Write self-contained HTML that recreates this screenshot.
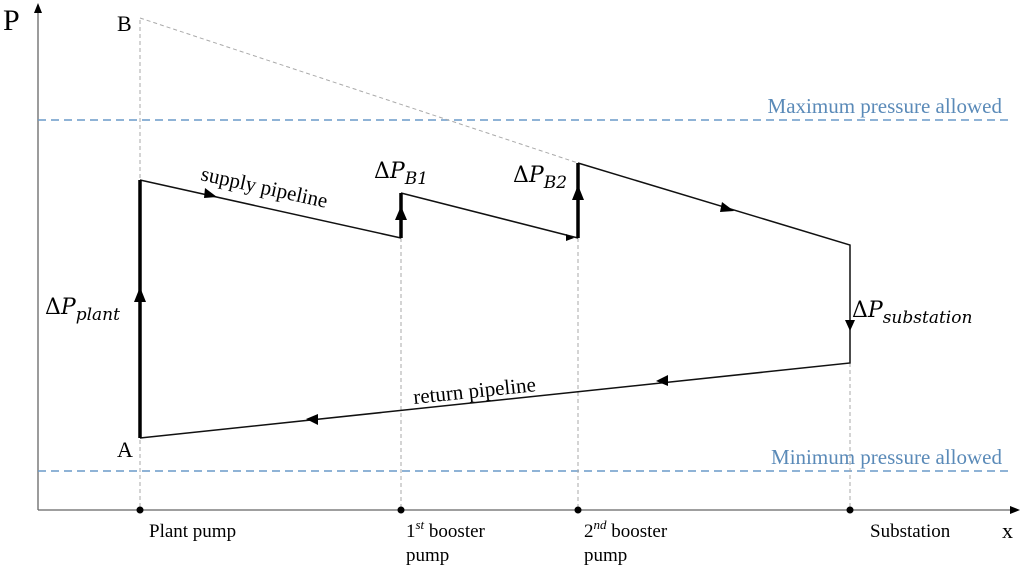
<!DOCTYPE html>
<html><head><meta charset="utf-8"><style>
html,body{margin:0;padding:0;background:#fff;}
svg{display:block;}
text{font-family:"Liberation Serif","DejaVu Serif",serif;}
.m{font-family:"DejaVu Serif","Liberation Serif",serif;}
</style></head><body>
<svg width="1024" height="574" viewBox="0 0 1024 574" xmlns="http://www.w3.org/2000/svg">
<line x1="38" y1="510" x2="38" y2="10" stroke="#666" stroke-width="1.3"/>
<polygon points="38,3 34,13 42,13" fill="#000"/>
<line x1="38" y1="510" x2="1012" y2="510" stroke="#666" stroke-width="1.3"/>
<polygon points="1020,510 1010,506 1010,514" fill="#000"/>
<text x="3" y="30" font-size="30">P</text>
<text x="1002" y="538" font-size="22">x</text>
<line x1="38" y1="120" x2="1010" y2="120" stroke="#6a9ac8" stroke-width="1.4" stroke-dasharray="8,5"/>
<line x1="38" y1="471" x2="1010" y2="471" stroke="#6a9ac8" stroke-width="1.4" stroke-dasharray="8,5"/>
<text x="1002" y="113" font-size="21" fill="#5a8ab8" text-anchor="end">Maximum pressure allowed</text>
<text x="1002" y="464" font-size="21" fill="#5a8ab8" text-anchor="end">Minimum pressure allowed</text>
<g stroke="#aaa" stroke-width="1" stroke-dasharray="4,3">
<line x1="140" y1="20" x2="140" y2="510"/>
<line x1="401" y1="238" x2="401" y2="510"/>
<line x1="578" y1="238" x2="578" y2="510"/>
<line x1="850" y1="363" x2="850" y2="510"/>
<line x1="140" y1="18" x2="578" y2="163"/>
</g>
<text x="117" y="31" font-size="22">B</text>
<text x="117" y="457" font-size="22">A</text>
<g stroke="#111" stroke-width="1.5" fill="none">
<polyline points="140,180 401,238"/>
<polyline points="401,193 578,238"/>
<polyline points="578,163 850,245 850,363 140,438"/>
</g>
<g stroke="#000" stroke-width="3.5">
<line x1="140" y1="438" x2="140" y2="180"/>
<line x1="401" y1="238" x2="401" y2="193"/>
<line x1="578" y1="238" x2="578" y2="163"/>
</g>
<polygon points="140,287 134,302 146,302" fill="#000"/>
<polygon points="401,206 395,220 407,220" fill="#000"/>
<polygon points="578,185 572,200 584,200" fill="#000"/>
<polygon points="850,331 845,320 855,320" fill="#000"/>
<polygon points="217,197 205,188 204,198" fill="#000"/>
<polygon points="734,211 722,202 720,212" fill="#000"/>
<polygon points="574,238 566,234 566,241" fill="#000"/>
<polygon points="656,381 668,375 668,386" fill="#000"/>
<polygon points="306,419 318,414 318,425" fill="#000"/>
<text x="200" y="180" font-size="21" transform="rotate(12.5 200 180)">supply pipeline</text>
<text x="414" y="404" font-size="21" transform="rotate(-6 414 404)">return pipeline</text>
<text class="m" x="45" y="314" font-size="22">Δ<tspan font-style="italic">P</tspan><tspan font-size="17" font-style="italic" dy="6">plant</tspan></text>
<text class="m" x="374" y="178" font-size="22">Δ<tspan font-style="italic">P</tspan><tspan font-size="17" font-style="italic" dy="6">B1</tspan></text>
<text class="m" x="513" y="182" font-size="22">Δ<tspan font-style="italic">P</tspan><tspan font-size="17" font-style="italic" dy="6">B2</tspan></text>
<text class="m" x="852" y="317" font-size="22">Δ<tspan font-style="italic">P</tspan><tspan font-size="17" font-style="italic" dy="6">substation</tspan></text>
<g fill="#000"><circle cx="140" cy="510" r="3.5"/><circle cx="401" cy="510" r="3.5"/><circle cx="578" cy="510" r="3.5"/><circle cx="850" cy="510" r="3.5"/></g>
<text x="149" y="537" font-size="19">Plant pump</text>
<text x="406" y="537" font-size="19">1<tspan font-size="13" font-style="italic" dy="-8">st</tspan><tspan dy="8"> booster</tspan></text>
<text x="406" y="561" font-size="19">pump</text>
<text x="584" y="537" font-size="19">2<tspan font-size="13" font-style="italic" dy="-8">nd</tspan><tspan dy="8"> booster</tspan></text>
<text x="584" y="561" font-size="19">pump</text>
<text x="870" y="537" font-size="19">Substation</text>
</svg>
</body></html>
